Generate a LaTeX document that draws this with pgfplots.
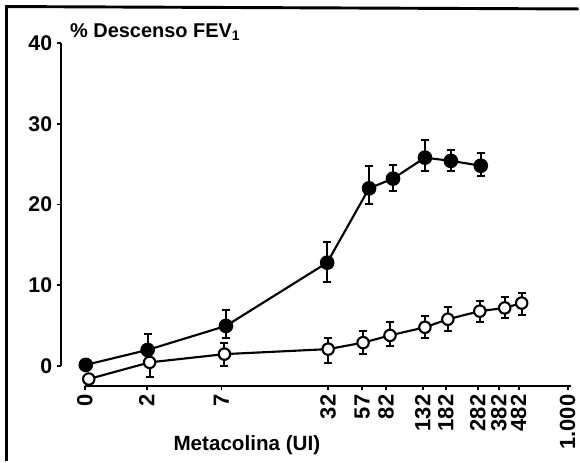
\documentclass[border=0pt]{standalone}
\usepackage{pgfplots}
\pgfplotsset{compat=1.18}
\usepackage{fontspec}
\setmainfont{Liberation Sans}
\begin{document}
\begin{tikzpicture}
\begin{axis}[
  x=0.75pt, y=6.075pt,
  xmin=85, xmax=572, ymin=0, ymax=40,
  axis lines=left,
  axis line style={-, line width=1.6pt},
  axis x line shift=15pt,
  axis y line shift=18pt,
  clip=false,
  tick align=outside,
  major tick length=3pt,
  tick style={line width=1.4pt, black},
  xtick={85,147,222,329,363,387,424,447,479,500,520,569},
  xticklabels={0,2,7,32,57,82,132,182,282,382,482,1.000},
  x tick label style={rotate=90, anchor=east, font=\bfseries\fontsize{16.5}{17}\selectfont},
  ytick={0,10,20,30,40},
  /pgf/number format/assume math mode=true,
  y tick label style={font=\bfseries\fontsize{16}{17}\selectfont},
]
% frame
\draw[line width=2.2pt] (axis cs:6.5,-11.73) -- (axis cs:6.5,44.5) -- (axis cs:580,44.2);
\path (axis cs:0,45.31) rectangle (axis cs:580,-11.73);

% open circles
\addplot[black, line width=1.6pt, mark=*, mark size=4.3pt,
  mark options={solid, fill=white, draw=black, line width=1.6pt},
  error bars/.cd, y dir=both, y explicit, error mark=|,
  error bar style={line width=1.5pt},
  error mark options={mark size=3pt, line width=1.5pt}]
coordinates {
(89,-1.6)
(150,0.46) += (0,1.8) -= (0,1.86)
(225,1.48) += (0,1.36) -= (0,1.44)
(329,2.1) += (0,1.4) -= (0,1.7)
(364,2.9) += (0,1.5) -= (0,1.4)
(391,3.8) += (0,1.6) -= (0,1.3)
(426,4.8) += (0,1.4) -= (0,1.3)
(449,5.8) += (0,1.5) -= (0,1.5)
(481,6.8) += (0,1.3) -= (0,1.4)
(506,7.2) += (0,1.3) -= (0,1.3)
(523,7.8) += (0,1.3) -= (0,1.5)
};

% filled circles
\addplot[black, line width=1.6pt, mark=*, mark size=4.7pt,
  mark options={solid, fill=black},
  error bars/.cd, y dir=both, y explicit, error mark=|,
  error bar style={line width=1.5pt},
  error mark options={mark size=3pt, line width=1.5pt}]
coordinates {
(86,0.15)
(148,2.0) += (0,1.95) -= (0,1.2)
(226.5,4.97) += (0,2.0) -= (0,1.45)
(328,12.8) += (0,2.5) -= (0,2.4)
(370,22.0) += (0,2.8) -= (0,2.0)
(394,23.2) += (0,1.7) -= (0,1.5)
(426,25.8) += (0,2.2) -= (0,1.7)
(452,25.4) += (0,1.3) -= (0,1.3)
(482,24.8) += (0,1.6) -= (0,1.3)
};

\node[anchor=base west, inner sep=0, font=\bfseries\fontsize{15}{16}\selectfont]
  at (axis cs:70,40.7) {\%~Descenso FEV\textsubscript{1}};
\node[anchor=base, inner sep=0, font=\bfseries\fontsize{15.5}{17}\selectfont]
  at (axis cs:247.5,-10.46) {Metacolina (UI)};
\end{axis}
\end{tikzpicture}
\end{document}
